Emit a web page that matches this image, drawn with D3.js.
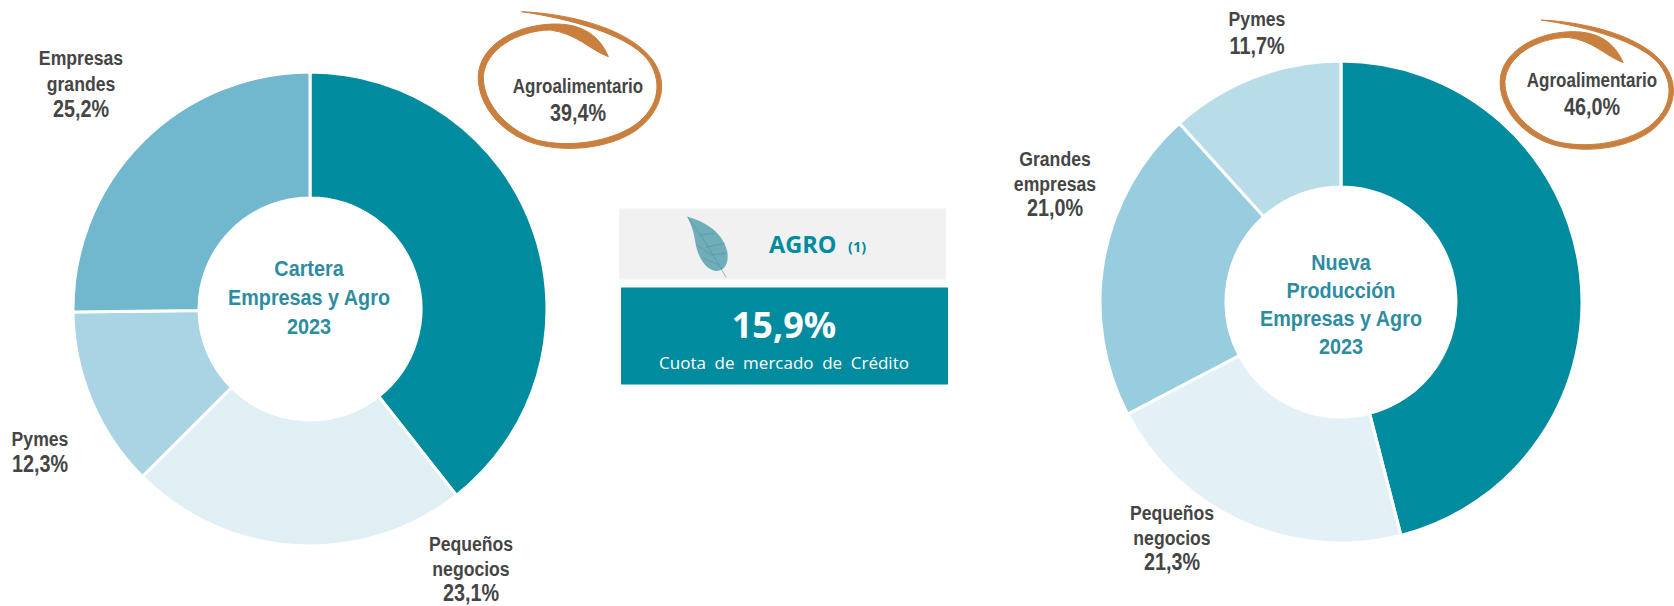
<!DOCTYPE html>
<html><head><meta charset="utf-8">
<script src="https://cdn.jsdelivr.net/npm/d3@7"></script>
<style>html,body{margin:0;padding:0;background:#fff}svg{display:block}</style></head>
<body><svg id="c" width="1674" height="606"></svg>
<script>
const leftNames = ["Agroalimentario","Pequeños negocios","Pymes","Empresas grandes"];
const leftValues = [39.4,23.1,12.3,25.2];
const leftColors = ["#008B9E","#DFEFF4","#A8D4E3","#71B8CE"];
const leftLabels = [["Agroalimentario","39,4%"],["Pequeños","negocios","23,1%"],["Pymes","12,3%"],["Empresas","grandes","25,2%"]];
const leftLabelPos = [[578,93,28],[471,551,25],[40,446,26],[81,65,26]];
const leftTitle = ["Cartera","Empresas y Agro","2023"];

const rightNames = ["Agroalimentario","Pequeños negocios","Grandes empresas","Pymes"];
const rightValues = [46.0,21.3,21.0,11.7];
const rightColors = ["#008B9E","#E3F1F6","#97CDDE","#B9DDE8"];
const rightLabels = [["Agroalimentario","46,0%"],["Pequeños","negocios","21,3%"],["Grandes","empresas","21,0%"],["Pymes","11,7%"]];
const rightLabelPos = [[1592,87,28],[1172,520,25],[1055,166,25],[1257,26,28]];
const rightTitle = ["Nueva","Producción","Empresas y Agro","2023"];

const svg = d3.select("#c");
const labelFont = "'Liberation Sans',Arial,sans-serif";
const uiFont = "'Open Sans','Noto Sans',sans-serif";

function narrowText(x,y,str,size,fill,sx){
  svg.append("text").attr("transform",`translate(${x},${y}) scale(${sx},1)`)
    .attr("text-anchor","middle").attr("font-family",labelFont).attr("font-weight",700)
    .attr("font-size",size).attr("fill",fill).text(str);
}
function donut(cx,cy,r0,r1,values,colors,names){
  const g = svg.append("g").attr("transform",`translate(${cx},${cy})`);
  const pie = d3.pie().sort(null)(values);
  const arc = d3.arc().innerRadius(r0).outerRadius(r1);
  g.selectAll("path").data(pie).join("path").attr("d",arc)
    .attr("fill",(d,i)=>colors[i]).attr("stroke","#fff").attr("stroke-width",3)
    .append("title").text((d,i)=>names[i]);
}
function labels(rows,pos){
  rows.forEach((lines,i)=>{
    const [x,y,lh]=pos[i];
    lines.forEach((s,j)=>{
      const pct = s.includes("%");
      narrowText(x,y+j*lh,s,pct?23:21,"#454545",pct?0.86:(s.length>12?0.81:0.84));
    });
  });
}
function title(lines,x,y,lh){
  lines.forEach((s,j)=>narrowText(x,y+j*lh,s,22,"#2E8CA0",0.9));
}
const ringPath = "M245,35 C400,42 560,88 630,170 C690,240 670,330 590,390 C510,445 380,460 280,430 C170,395 110,300 115,225 C120,140 220,75 340,72 C430,70 480,110 505,170 C450,150 410,100 330,90 C230,92 135,150 130,230 C128,300 190,385 290,420 C390,445 510,425 585,375 C660,320 670,240 620,175 C560,105 400,58 245,35 Z";
function ring(x,y,s){
  svg.append("path").attr("d",ringPath).attr("fill","#C97F3E").attr("stroke","#C97F3E").attr("stroke-width",1/s)
    .attr("stroke-linejoin","round")
    .attr("transform",`translate(${x},${y}) scale(${s})`);
}

donut(310,309,111,237,leftValues,leftColors,leftNames);
donut(1341,302,115,241,rightValues,rightColors,rightNames);
ring(440,0,1/3);
ring(1464,9,0.315);
labels(leftLabels,leftLabelPos);
labels(rightLabels,rightLabelPos);
title(leftTitle,309,276,29);
title(rightTitle,1341,270,28);

// centre panel
svg.append("rect").attr("x",619).attr("y",208.5).attr("width",327).attr("height",71).attr("fill","#F1F1F1");
svg.append("rect").attr("x",621).attr("y",287.5).attr("width",327).attr("height",97).attr("fill","#008B9E");
const leaf = svg.append("g").attr("transform","translate(600,190) scale(0.3333)");
leaf.append("path").attr("d","M262,80 C320,95 370,130 382,185 C388,225 370,245 345,243 C310,235 290,190 285,150 C280,120 272,100 262,80 Z").attr("fill","#6FADB9");
leaf.append("path").attr("d","M262,80 C300,130 335,185 378,262 M300,135 L345,130 M318,172 L375,160 M290,165 L335,195 M335,195 L378,190 M310,205 L358,225")
  .attr("fill","none").attr("stroke","#4F93A1").attr("stroke-width",2.5).attr("opacity",.7);
svg.append("text").attr("x",769).attr("y",253).attr("font-family",uiFont).attr("font-weight",700).attr("font-size",23.5).attr("fill","#008B9E").text("AGRO");
svg.append("text").attr("x",848).attr("y",252).attr("font-family",uiFont).attr("font-weight",700).attr("font-size",14.5).attr("fill","#008B9E").text("(1)");
svg.append("text").attr("x",784).attr("y",338).attr("text-anchor","middle").attr("font-family",uiFont).attr("font-weight",700).attr("font-size",36).attr("fill","#fff").text("15,9%");
svg.append("text").attr("x",784).attr("y",369).attr("text-anchor","middle").attr("font-family",uiFont).attr("font-size",17).attr("word-spacing",4.2).attr("fill","#fff").text("Cuota de mercado de Crédito");
</script></body></html>
